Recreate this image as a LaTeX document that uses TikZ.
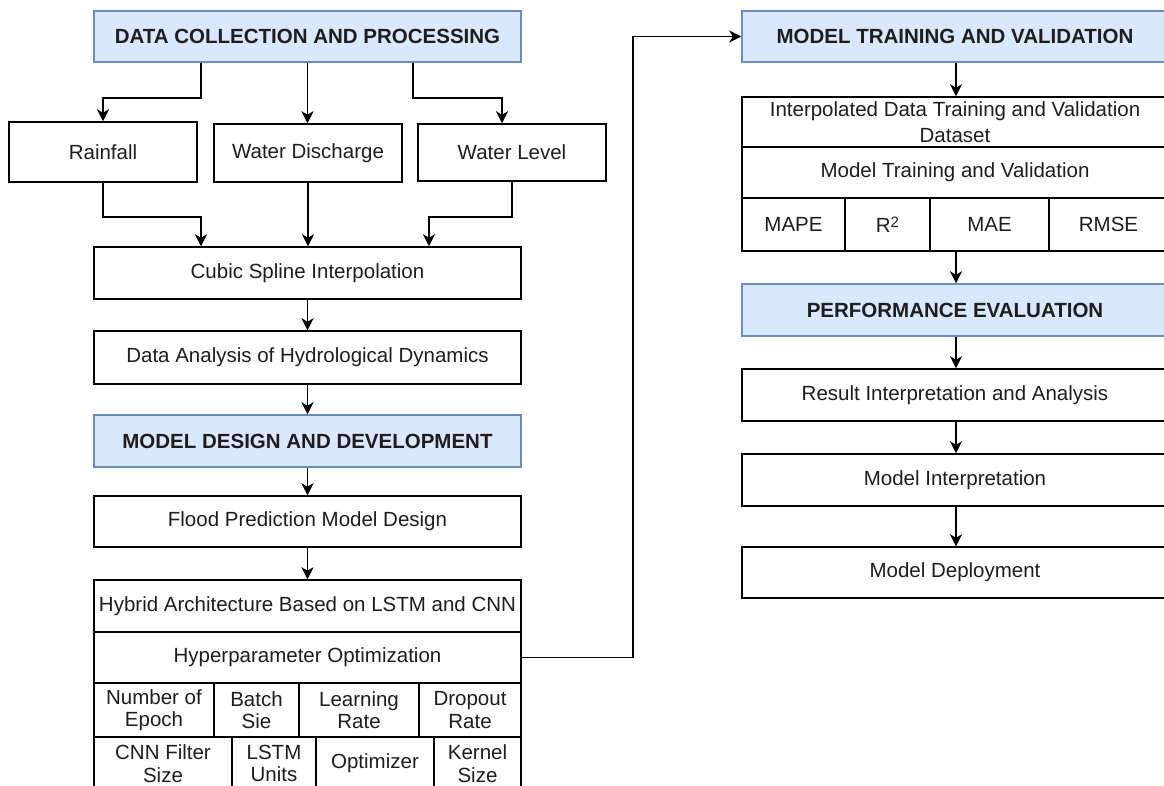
\documentclass[tikz,border=0pt]{standalone}
\usepackage{fontspec}
\setmainfont{Liberation Sans}
\usetikzlibrary{arrows.meta,calc}
\definecolor{hdrfill}{HTML}{DAE8FC}
\definecolor{hdrdraw}{HTML}{6C8EBF}
\definecolor{txt}{HTML}{1E1E1E}
\newcommand\mybox[7]{\node[#1, minimum width={(#5-#3)*1pt}, minimum height={(#6-#4)*1pt}] (#2) at ({(#3+#5)/2},{(#4+#6)/2}) {#7};}
\begin{document}
\begin{tikzpicture}[x=1pt,y=-1pt,
  every node/.style={text=txt, font=\fontsize{20.5}{22.5}\selectfont, inner sep=1pt, align=center},
  plain/.style={draw=black, line width=1.5pt, fill=white},
  wide/.style={plain, font=\fontsize{20.5}{25.5}\selectfont},
  hdr/.style={draw=hdrdraw, line width=1.5pt, fill=hdrfill, font=\fontsize{20.5}{22.5}\selectfont\bfseries},
  arr/.style={draw=black, line width=1.5pt, -{Stealth[length=12pt,width=12pt,inset=3.5pt]}}]
\useasboundingbox (0,0) rectangle (1164,785);
\fill[white] (0,0) rectangle (1164,785);
% ---------- left column ----------
\mybox{hdr}{hdr1}{94}{11}{521}{62}{DATA COLLECTION AND PROCESSING}
\mybox{plain}{rain}{9}{122}{197}{182}{Rainfall}
\mybox{plain}{wd}{214}{124}{402}{182}{Water Discharge}
\mybox{plain}{wl}{418}{124}{606}{181}{Water Level}
\mybox{plain}{cubic}{94}{247}{521}{299}{Cubic Spline Interpolation}
\mybox{plain}{da}{94}{331}{521}{384}{Data Analysis of Hydrological Dynamics}
\mybox{hdr}{hdr2}{94}{415}{521}{467}{MODEL DESIGN AND DEVELOPMENT}
\mybox{plain}{flood}{94}{496}{521}{547}{Flood Prediction Model Design}
\mybox{plain}{hybrid}{94}{580}{521}{632}{Hybrid Architecture Based on LSTM and CNN}
\mybox{plain}{hyper}{94}{632}{521}{683}{Hyperparameter Optimization}
\mybox{plain}{c31}{94}{683}{214}{737}{Number of\\Epoch}
\mybox{plain}{c32}{214}{683}{299}{737}{Batch\\Sie}
\mybox{plain}{c33}{299}{683}{419}{737}{Learning\\Rate}
\mybox{plain}{c34}{419}{683}{521}{737}{Dropout\\Rate}
\mybox{plain}{c41}{94}{737}{232}{790}{CNN Filter\\Size}
\mybox{plain}{c42}{232}{737}{316}{790}{LSTM\\Units}
\mybox{plain}{c43}{316}{737}{434}{790}{Optimizer}
\mybox{plain}{c44}{434}{737}{521}{790}{Kernel\\Size}
% ---------- right column ----------
\mybox{hdr}{hdr3}{742}{11}{1168}{62}{MODEL TRAINING AND VALIDATION}
\mybox{wide}{idata}{742}{97}{1168}{147}{Interpolated Data Training and Validation\\Dataset}
\mybox{plain}{mtv}{742}{147}{1168}{198}{Model Training and Validation}
\mybox{plain}{mape}{742}{198}{845}{251}{MAPE}
\mybox{plain}{rsq}{845}{198}{930}{251}{R\raisebox{5pt}{\fontsize{15}{15}\selectfont 2}}
\mybox{plain}{mae}{930}{198}{1049}{251}{MAE}
\mybox{plain}{rmse}{1049}{198}{1168}{251}{RMSE}
\mybox{hdr}{perf}{742}{284}{1168}{336}{PERFORMANCE EVALUATION}
\mybox{plain}{result}{742}{369}{1168}{421}{Result Interpretation and Analysis}
\mybox{plain}{minterp}{742}{454}{1168}{506}{Model Interpretation}
\mybox{plain}{deploy}{742}{547}{1168}{598}{Model Deployment}
% ---------- connectors ----------
\draw[arr] ([xshift=-106.5pt]hdr1.south) -- ++(0,35) -| (rain.north);
\draw[arr] (hdr1.south) -- (hdr1.south |- wd.north);
\draw[arr] ([xshift=105.5pt]hdr1.south) -- ++(0,35) -| ([xshift=-10pt]wl.north);
\draw[arr] (rain.south) -- ++(0,34) -| ([xshift=-106.5pt]cubic.north);
\draw[arr] (wd.south) -- (wd.south |- cubic.north);
\draw[arr] (wl.south) -- ++(0,35) -| ([xshift=121.5pt]cubic.north);
\draw[arr] (cubic.south) -- (da.north);
\draw[arr] (da.south) -- (hdr2.north);
\draw[arr] (hdr2.south) -- (flood.north);
\draw[arr] (flood.south) -- (hybrid.north);
\draw[arr] (hyper.east) -- ++(111,0) |- (hdr3.west);
\draw[arr] ([xshift=1pt]hdr3.south) -- ([xshift=1pt]idata.north);
\draw[arr] ([xshift=1pt]hdr3.south |- mae.south) -- ([xshift=1pt]perf.north);
\draw[arr] ([xshift=1pt]perf.south) -- ([xshift=1pt]result.north);
\draw[arr] ([xshift=1pt]result.south) -- ([xshift=1pt]minterp.north);
\draw[arr] ([xshift=1pt]minterp.south) -- ([xshift=1pt]deploy.north);
\end{tikzpicture}
\end{document}
